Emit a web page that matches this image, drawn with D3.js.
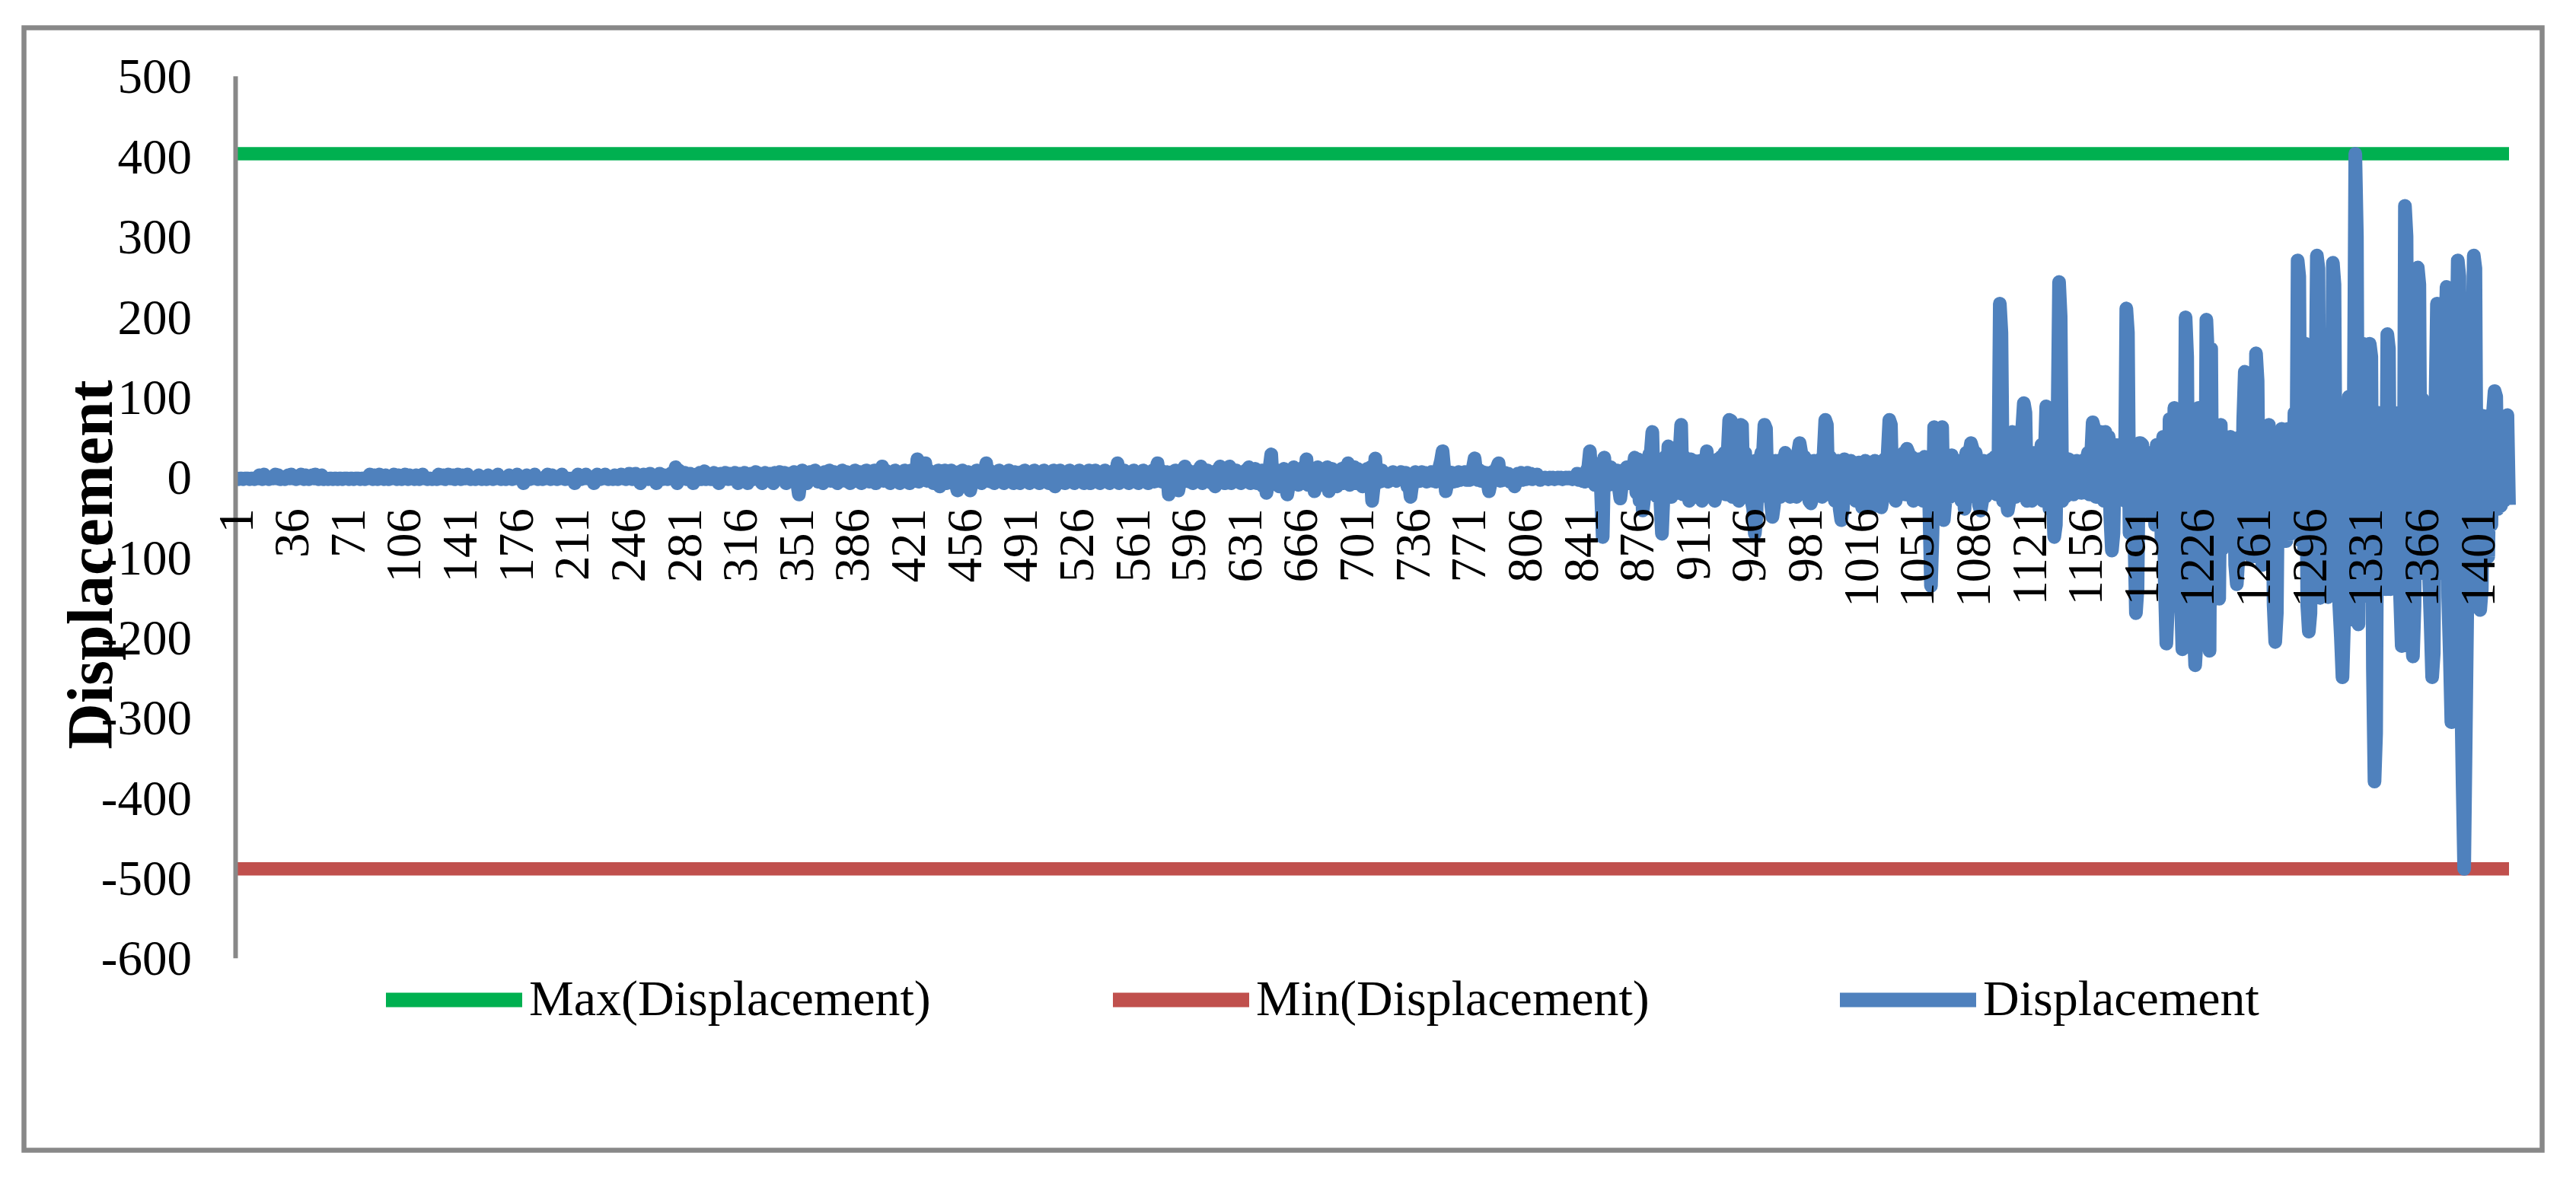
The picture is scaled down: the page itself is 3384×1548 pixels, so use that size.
<!DOCTYPE html>
<html><head><meta charset="utf-8">
<script src="https://cdn.jsdelivr.net/npm/d3@7"></script>
<style>html,body{margin:0;padding:0;background:#fff;} svg{display:block;}</style>
</head><body>
<svg id="chart" width="3384" height="1548"></svg>
<script>
const yTickValues = [500, 400, 300, 200, 100, 0, -100, -200, -300, -400, -500, -600];
const xTickLabels = [1,36,71,106,141,176,211,246,281,316,351,386,421,456,491,526,561,596,631,666,701,736,771,806,841,876,911,946,981,1016,1051,1086,1121,1156,1191,1226,1261,1296,1331,1366,1401];
const seriesNames = ["Max(Displacement)", "Min(Displacement)", "Displacement"];
const seriesColors = ["#00B050", "#C0504D", "#4F81BD"];
const yTitle = "Displacement";
const displacement = [
-2,-2,-3,-2,-2,-3,-2,-2,-2,-3,-2,-2,-3,-2,-2,2,-2,-3,3,-2,-2,-3,-2,-2,-2,3,-2,2,-3,-2,-2,-3,-2,2,-2,
3,-2,-2,-3,-2,-2,3,-2,-3,2,-2,-3,-2,2,-2,3,-2,-3,-2,2,-3,-2,-2,-3,-2,-2,-3,-2,-2,-3,-2,-2,-3,-2,-2,
-2,-3,-2,-2,-3,-2,-2,-2,-3,-2,-2,-3,-2,-2,3,-2,-3,2,-2,-3,3,-2,-2,-3,2,-2,-3,-2,-2,3,-2,-3,2,-2,-3,
-2,3,-2,-3,2,-2,-2,-3,2,-2,-3,-2,3,-2,-2,-3,-2,-2,-3,-2,-2,-3,3,-2,-2,2,-3,-2,3,-2,-2,2,-3,-2,3,
-2,-3,2,-2,-2,3,-2,-3,-2,-2,-3,-2,2,-2,-3,-2,-2,-3,2,-2,-2,-3,-2,-2,3,-2,-3,-2,-2,-3,-2,2,-2,-3,-2,
-2,3,-2,-3,-2,-8,-2,2,-2,-3,-2,-2,3,-2,-3,-2,-2,-3,-2,-2,3,-2,-3,2,-2,-2,-3,-2,-2,3,-2,-3,-2,-2,-3,
-2,-2,-8,-2,3,-2,-3,-2,-2,3,-2,-2,-3,-2,-8,-2,3,-2,-3,-2,-2,3,-2,-3,-2,-2,-3,2,-2,-3,-2,3,-2,-2,-3,
-2,4,-2,-3,-2,4,-2,-3,-8,-2,3,-2,-2,-3,4,-2,-3,-2,-8,-2,4,-2,-3,2,-2,-3,-2,4,-2,-3,12,-8,8,-3,4,
-2,5,-3,-2,4,-2,-8,-3,3,-2,5,-3,-2,7,-3,-2,4,-3,-2,5,-3,-2,-8,4,-2,-3,5,-2,-3,4,-2,-3,5,-2,-8,
4,-2,-3,5,-2,-8,-3,4,-2,-3,6,-2,-3,4,-8,-2,5,-3,-2,4,-3,-8,5,-2,-3,6,-2,-3,5,-8,-2,4,-3,-2,6,
-3,-8,-22,-6,8,-3,5,-8,-2,6,-3,-2,8,-3,-6,4,-3,-8,6,-2,-3,8,-5,-2,6,-3,-8,5,-2,8,-3,-5,6,-2,-8,
5,-3,8,-5,-2,6,-8,4,-3,8,-2,-6,5,-3,8,-8,4,-3,6,13,-5,8,-3,4,-8,6,-2,8,-5,4,-8,6,-3,8,-6,
5,-8,8,-3,6,-5,22,-6,8,-3,10,17,-5,8,-3,6,-8,5,-3,8,-12,6,-5,8,-8,4,-6,8,-3,5,-8,-17,6,-5,8,
-6,5,-8,6,-17,-8,5,-3,8,-6,4,-8,6,-3,17,-5,8,-6,5,-8,6,-3,8,-5,4,-8,6,-5,8,-3,5,-8,6,-5,4,
-8,6,-3,8,-5,5,-8,6,-3,8,-6,4,-8,5,-3,8,-6,5,-8,6,-3,8,-12,5,-6,8,-3,6,-8,5,-3,8,-6,4,-8,
6,-5,8,-3,5,-8,6,-5,8,-8,4,-6,8,-3,5,-8,6,-5,8,-6,4,-8,6,-3,8,-5,17,-8,6,-5,8,-3,5,-8,6,
-5,8,-6,5,-8,6,-3,8,-5,6,-8,5,-3,8,-6,8,17,-5,8,-6,5,-8,6,-22,-8,6,-5,8,-3,-17,-6,5,8,13,-5,
8,-6,5,-8,6,-3,8,-5,13,-8,6,-5,8,-3,5,-8,6,-12,8,-5,13,-6,8,-8,5,-3,13,-8,6,-5,8,-6,5,-8,6,
-5,8,-6,12,-8,6,-5,10,-8,6,-5,8,-12,6,-20,-8,12,28,-8,10,-6,8,-12,6,-8,10,-5,-22,-10,8,-6,12,-8,6,-10,
8,-6,12,-8,22,-10,8,-6,10,-18,-8,12,-6,8,-10,6,-8,12,-18,-6,10,-8,6,-12,8,-6,10,-8,12,-6,17,-10,8,-6,12,
-8,10,-6,8,-12,6,-8,10,-6,12,-30,-12,23,-8,10,-6,8,-4,-2,4,-6,2,-4,6,-2,-5,4,-3,6,-2,-4,5,-12,-8,-25,
-10,-4,6,-6,4,-5,6,-4,5,-6,4,-3,6,-5,4,-6,8,12,20,32,10,-18,-8,6,-4,5,-6,4,-5,6,-4,5,-3,6,-4,
5,-4,8,12,23,6,-4,8,-5,6,-4,5,-6,-18,-8,6,-4,8,12,17,-5,6,-4,5,-3,4,-6,-4,-8,-12,-5,4,-3,5,-4,
4,-3,5,-2,4,-3,2,-2,3,-2,-4,-1,-2,-1,-2,-3,-1,-2,-1,-3,-2,-1,-2,-1,-3,-2,-1,-2,-1,-2,-3,-1,-2,4,-4,
-2,-5,4,-6,8,12,32,-6,18,-10,12,-8,10,-20,-75,24,-12,8,-10,12,-8,6,-10,8,-12,-27,-10,8,-6,12,-8,10,-6,8,24,
-20,22,-30,18,-42,-25,20,-22,28,30,56,-20,22,-25,18,-30,-71,-22,25,-18,38,20,-25,22,-18,28,-20,30,65,-22,25,-20,18,-30,22,
-18,20,-25,18,-22,20,-30,22,-18,32,-20,18,-22,16,-30,-20,22,-18,25,-20,30,-22,28,71,70,-25,20,-22,18,-30,65,64,-22,30,-25,
-22,20,-30,-40,-71,-50,22,-20,30,25,65,60,-25,20,-30,-50,-35,20,-22,18,-25,22,-20,30,-18,20,-25,18,-22,20,-25,30,42,30,-20,
25,-22,20,-30,-33,-25,20,-22,18,-20,22,-25,30,71,65,-22,25,-20,18,-30,-22,20,-40,-54,-40,22,-20,18,-25,20,-22,16,-30,-20,18,
-22,-38,-30,20,-38,-25,18,-38,-30,20,-35,-22,18,-38,-25,22,-20,30,71,65,-22,20,-30,22,-18,25,-20,30,-22,35,30,-20,25,-30,20,
-25,22,-20,18,-30,25,-22,20,-40,-136,-70,62,-30,25,-20,30,62,-54,-30,25,20,-25,27,-20,18,16,-22,20,-30,18,-40,30,-25,30,42,
35,-25,30,-20,-35,-42,-30,20,-25,18,16,-20,22,-18,25,-22,-15,216,180,-30,20,-25,-42,-30,22,56,40,-25,20,-22,40,60,92,80,-30,
-25,20,-30,22,30,-20,18,-22,40,-30,22,88,60,-40,-20,-30,-75,-60,60,243,200,-30,20,-25,18,22,-20,18,-22,16,20,-18,15,-20,18,
22,-20,30,-22,25,68,60,-25,30,-20,56,40,-30,56,-25,50,-50,-92,-70,40,-30,-20,40,-25,30,-30,210,180,-70,-50,30,-70,-170,-140,42,
42,40,-30,-36,20,-40,30,-50,30,-60,40,-50,19,-80,50,-130,-208,-160,72,60,-120,86,-150,40,-130,-140,-215,-120,199,150,-160,50,-200,-180,-235,
-200,86,-160,-120,60,-150,196,150,-217,160,-140,60,-120,40,-152,65,-90,19,-60,40,-50,50,-70,40,-110,-134,-100,50,-80,70,131,110,-90,120,-100,
80,-90,154,120,-100,50,-110,-80,40,-60,65,-90,50,-160,-206,-170,50,-70,60,-60,40,-80,60,-60,40,-70,80,-60,270,250,-80,168,-90,166,-160,
-193,-170,80,-120,60,276,260,-151,-120,60,-140,50,-150,60,-60,267,240,-100,60,-160,-200,-250,-180,80,-120,100,-160,-178,60,403,300,-184,60,-150,166,
-100,60,120,166,150,-240,-380,-320,80,-120,60,-140,80,-140,178,160,-140,60,-120,60,-90,80,-150,-211,-180,338,300,-120,60,-180,-224,-160,100,261,240,
-120,97,80,-100,60,-120,-180,-250,-220,80,216,200,-100,104,-120,150,237,-150,-220,-306,-200,120,130,270,250,-250,-380,-489,-320,-150,80,-120,160,276,260,
-100,-150,-166,-140,76,-80,60,-100,40,-60,80,107,100,-40,60,-36,70,-30,60,77,-35
];

const categories = displacement.map((d, i) => i + 1);
const maxVal = d3.max(displacement);
const minVal = d3.min(displacement);
const maxSeries = categories.map(() => maxVal);
const minSeries = categories.map(() => minVal);
const allSeries = [maxSeries, minSeries, displacement];

const FONT = "'Times New Roman', 'Liberation Serif', serif";
const svg = d3.select("#chart");
svg.append("rect").attr("width", 3384).attr("height", 1548).attr("fill", "#fff");

// outer frame
svg.append("rect")
  .attr("x", 31.5).attr("y", 36.5).attr("width", 3308).attr("height", 1475)
  .attr("fill", "none").attr("stroke", "#888888").attr("stroke-width", 6.5);

const plotLeft = 309, plotRight = 3296;
const x = d3.scaleLinear().domain([1, categories.length]).range([plotLeft, plotRight]);
const y = d3.scaleLinear().domain([-600, 500]).range([1258.8, 99.8]);

// series lines
const line = d3.line().x((d, i) => x(categories[i])).y(d => y(d));
svg.append("g").selectAll("path").data(allSeries).join("path")
  .attr("d", d => line(d))
  .attr("fill", "none")
  .attr("stroke", (d, i) => seriesColors[i])
  .attr("stroke-width", (d, i) => i === 2 ? 18 : 17.5)
  .attr("stroke-linejoin", "round")
  .attr("stroke-linecap", "butt");

// y axis
const yAxis = svg.append("g").attr("transform", `translate(${plotLeft},0)`)
  .call(d3.axisLeft(y).tickValues(yTickValues).tickSize(0).tickPadding(57).tickFormat(d => String(d)));
yAxis.select(".domain").attr("stroke", "#888888").attr("stroke-width", 6);
yAxis.selectAll("text").attr("dy", "0.34em")
  .style("font-family", FONT).style("font-size", "65px").attr("fill", "#000");

// x axis labels (categories)
const xAxis = svg.append("g").attr("transform", "translate(0,668)")
  .call(d3.axisBottom(x).tickValues(xTickLabels).tickSize(0).tickFormat(d => String(d)));
xAxis.select(".domain").remove();
xAxis.selectAll("text")
  .attr("x", 0).attr("y", 0).attr("dy", "0.34em")
  .attr("transform", "rotate(-90)")
  .style("text-anchor", "end")
  .style("font-family", FONT).style("font-size", "65px").attr("fill", "#000");

// y title
svg.append("text")
  .attr("transform", "translate(147,742) rotate(-90)")
  .attr("text-anchor", "middle")
  .style("font-family", FONT).style("font-size", "84px").style("font-weight", "bold")
  .text(yTitle);

// legend
const legend = svg.append("g").selectAll("g").data(seriesNames).join("g")
  .attr("transform", (d, i) => `translate(${507 + i * 955},1314)`);
legend.append("line").attr("x1", 0).attr("x2", 179).attr("y1", 0).attr("y2", 0)
  .attr("stroke", (d, i) => seriesColors[i]).attr("stroke-width", 19);
legend.append("text").attr("x", 188).attr("y", 20)
  .style("font-family", FONT).style("font-size", "66px").attr("fill", "#000")
  .text(d => d);
</script>
</body></html>
